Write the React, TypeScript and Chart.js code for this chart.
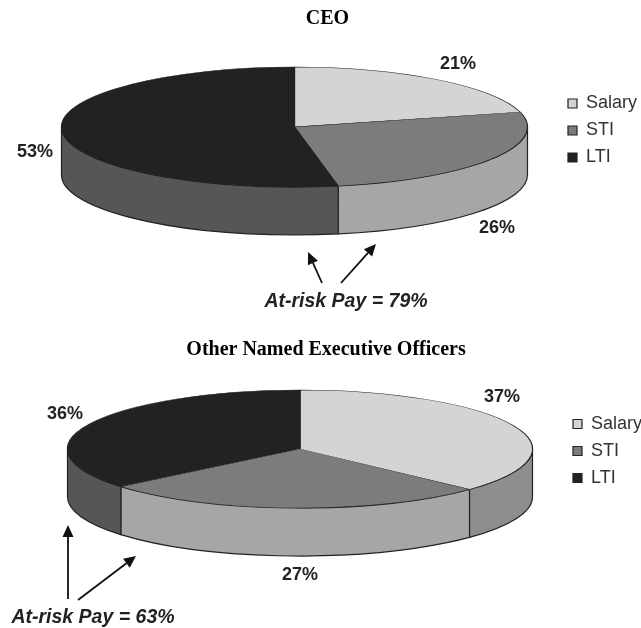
import React, { useEffect, useRef } from "react";
import { Chart, registerables } from "chart.js";

Chart.register(...registerables);

const categories = ["Salary", "STI", "LTI"];
const ceoValues = [21, 26, 53];
const otherValues = [37, 27, 36];
const ceoTitle = "CEO";
const otherTitle = "Other Named Executive Officers";
const ceoNote = "At-risk Pay = 79%";
const otherNote = "At-risk Pay = 63%";
const topColors = ["#d4d4d4", "#7c7c7c", "#222222"];
const wallColors = ["#8e8e8e", "#a6a6a6", "#565656"];
const SANS = "'Liberation Sans', Arial, sans-serif";

type Pt = [number, number];
interface Layout {
  cx: number; cy: number; rx: number; ry: number; depth: number;
  labels: Pt[]; note: Pt; arrows: [Pt, Pt][];
  titleTop: number; padLeft: number; padRight: number; padBottom: number;
}

const ceoLayout: Layout = {
  cx: 294.5, cy: 127, rx: 233, ry: 60, depth: 48,
  labels: [[458, 64], [497, 228], [35, 152]],
  note: [346, 302],
  arrows: [[[322, 283], [308, 252]], [[341, 283], [376, 244]]],
  titleTop: 7, padLeft: 8, padRight: -6, padBottom: 53,
};
const otherLayout: Layout = {
  cx: 300, cy: 135, rx: 232.5, ry: 59, depth: 48,
  labels: [[502, 83], [300, 261], [65, 100]],
  note: [93, 304],
  arrows: [[[68, 285], [68, 211]], [[78, 286], [136, 242]]],
  titleTop: 24, padLeft: 0, padRight: -11, padBottom: 40,
};

function arrow(ctx: CanvasRenderingContext2D, from: Pt, to: Pt) {
  const a = Math.atan2(to[1] - from[1], to[0] - from[0]);
  const len = 12, wing = 5.5;
  const bx = to[0] - len * Math.cos(a), by = to[1] - len * Math.sin(a);
  ctx.strokeStyle = "#111";
  ctx.fillStyle = "#111";
  ctx.lineWidth = 1.8;
  ctx.beginPath();
  ctx.moveTo(from[0], from[1]);
  ctx.lineTo(bx, by);
  ctx.stroke();
  ctx.beginPath();
  ctx.moveTo(to[0], to[1]);
  ctx.lineTo(bx - wing * Math.sin(a), by + wing * Math.cos(a));
  ctx.lineTo(bx + wing * Math.sin(a), by - wing * Math.cos(a));
  ctx.closePath();
  ctx.fill();
}

function pie3d(layout: Layout, values: number[], note: string) {
  return {
    id: "pie3d",
    beforeDatasetsDraw(chart: any) {
      const ctx: CanvasRenderingContext2D = chart.ctx;
      const { cx, cy, rx, ry, depth } = layout;
      const arcs = chart.getDatasetMeta(0).data;
      arcs.forEach((arc: any, i: number) => {
        const a0 = Math.max(arc.startAngle, 0);
        const a1 = Math.min(arc.endAngle, Math.PI);
        if (a1 <= a0) return;
        ctx.beginPath();
        ctx.ellipse(cx, cy, rx, ry, 0, a0, a1);
        ctx.lineTo(cx + rx * Math.cos(a1), cy + ry * Math.sin(a1) + depth);
        ctx.ellipse(cx, cy + depth, rx, ry, 0, a1, a0, true);
        ctx.closePath();
        ctx.fillStyle = wallColors[i];
        ctx.fill();
        ctx.strokeStyle = "#222";
        ctx.lineWidth = 1.2;
        ctx.stroke();
      });
      const ref = arcs[0];
      ctx.save();
      ctx.translate(cx, cy);
      ctx.scale(1, ry / rx);
      ctx.translate(-ref.x, -ref.y);
    },
    afterDatasetsDraw(chart: any) {
      const ctx: CanvasRenderingContext2D = chart.ctx;
      ctx.restore();
      ctx.save();
      ctx.textAlign = "center";
      ctx.textBaseline = "middle";
      ctx.fillStyle = "#222";
      ctx.font = `bold 18px ${SANS}`;
      values.forEach((v, i) => {
        ctx.fillText(`${v}%`, layout.labels[i][0], layout.labels[i][1]);
      });
      ctx.font = `italic bold 19.5px ${SANS}`;
      ctx.fillText(note, layout.note[0], layout.note[1]);
      layout.arrows.forEach(([a, b]) => arrow(ctx, a, b));
      ctx.restore();
    },
  };
}

function makeChart(canvas: HTMLCanvasElement, title: string, values: number[], layout: Layout, note: string) {
  return new Chart(canvas, {
    type: "pie",
    data: {
      labels: categories,
      datasets: [{
        data: values,
        backgroundColor: topColors,
        borderColor: "#222",
        borderWidth: 1.2,
        clip: false,
      } as any],
    },
    options: {
      responsive: false,
      animation: false,
      radius: layout.rx,
      layout: { padding: { left: layout.padLeft, right: layout.padRight, bottom: layout.padBottom } },
      plugins: {
        tooltip: { enabled: false },
        title: {
          display: true,
          text: title,
          color: "#000",
          font: { family: "'Liberation Serif', 'Times New Roman', serif", size: 20, weight: "bold" },
          padding: { top: layout.titleTop, bottom: 4 },
        },
        legend: {
          display: true,
          position: "right",
          align: "center",
          labels: {
            color: "#333",
            font: { family: SANS, size: 18 },
            boxWidth: 9,
            boxHeight: 9,
            padding: 9,
          },
        },
      },
    } as any,
    plugins: [pie3d(layout, values, note) as any],
  });
}

export default function App() {
  const topRef = useRef<HTMLCanvasElement>(null);
  const bottomRef = useRef<HTMLCanvasElement>(null);
  useEffect(() => {
    const a = makeChart(topRef.current!, ceoTitle, ceoValues, ceoLayout, ceoNote);
    const b = makeChart(bottomRef.current!, otherTitle, otherValues, otherLayout, otherNote);
    return () => { a.destroy(); b.destroy(); };
  }, []);
  return (
    <div style={{ position: "absolute", left: 0, top: 0, width: 641, height: 628, background: "#fff", overflow: "hidden" }}>
      <canvas ref={topRef} width={641} height={314} style={{ position: "absolute", left: 0, top: 0 }} />
      <canvas ref={bottomRef} width={641} height={314} style={{ position: "absolute", left: 0, top: 314 }} />
    </div>
  );
}
